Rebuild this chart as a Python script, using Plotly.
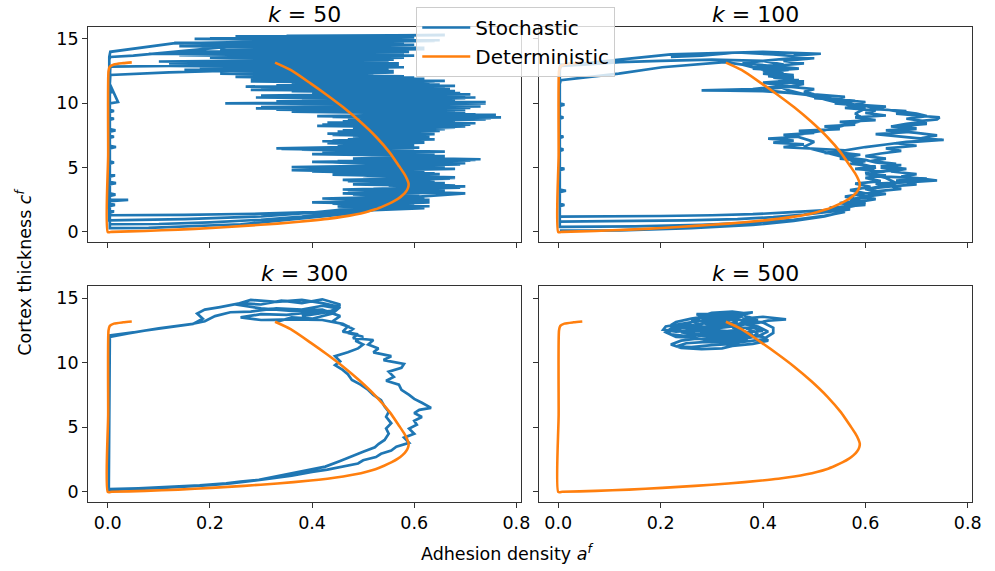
import plotly.graph_objects as go

BLUE = "#1f77b4"
ORANGE = "#ff7f0e"

# ---------------- data ----------------
ks = ["50", "100", "300", "500"]
x_ticks = [0.0, 0.2, 0.4, 0.6, 0.8]
y_ticks = [0, 5, 10, 15]

# deterministic limit-cycle (a^f, c^f)
det_pts = [
    (0.3275, 13.16), (0.358, 12.59), (0.397, 11.55), (0.429, 10.65), (0.461, 9.69),
    (0.494, 8.58), (0.526, 7.36), (0.552, 6.17), (0.571, 5.08), (0.580, 4.55),
    (0.586, 4.1), (0.589, 3.75), (0.588, 3.45), (0.584, 3.15), (0.577, 2.85),
    (0.568, 2.57), (0.556, 2.3), (0.541, 2.03), (0.524, 1.76), (0.505, 1.54),
    (0.485, 1.36), (0.461, 1.19), (0.430, 1.02), (0.397, 0.88), (0.332, 0.65),
    (0.267, 0.47), (0.203, 0.31), (0.138, 0.18), (0.073, 0.08), (0.008, 0.01),
    (0.0, 0.0), (0.0008, 6.0), (0.0015, 12.5), (0.004, 12.85), (0.012, 13.02),
    (0.03, 13.12), (0.047, 13.18),
]

# stochastic run, k = 50
k50_pts = [
    (0.45, 12.9), (0.30, 12.6), (0.12, 12.4), (0.005, 12.2),
    (0.004, 11.5), (0.02, 10.1), (0.004, 10.0), (0.004, 8.0), (0.015, 7.9), (0.004, 7.8),
    (0.004, 6.7), (0.016, 6.6), (0.004, 6.5), (0.004, 4.5), (0.014, 4.4), (0.004, 4.3),
    (0.004, 2.5), (0.04, 2.5), (0.004, 2.4), (0.004, 0.3),
    (0.08, 0.32), (0.18, 0.45), (0.26, 0.6), (0.33, 0.85), (0.40, 1.1), (0.47, 1.4), (0.52, 1.7),
    (0.62, 1.85), (0.45, 1.95), (0.60, 2.15), (0.40, 2.3), (0.63, 2.5), (0.50, 2.65), (0.61, 2.85),
    (0.46, 3.0), (0.66, 3.2), (0.52, 3.35), (0.70, 3.55), (0.48, 3.7), (0.64, 3.9), (0.55, 4.05),
    (0.68, 4.25), (0.44, 4.45), (0.62, 4.6), (0.36, 4.8), (0.66, 5.0), (0.50, 5.15), (0.70, 5.35),
    (0.45, 5.5), (0.73, 5.65), (0.52, 5.8), (0.64, 6.0), (0.42, 6.15), (0.60, 6.3), (0.34, 6.45),
    (0.58, 6.6), (0.46, 6.8), (0.62, 6.95), (0.44, 7.1), (0.60, 7.3), (0.48, 7.45), (0.64, 7.6),
    (0.45, 7.8), (0.66, 8.0), (0.50, 8.15), (0.71, 8.35), (0.43, 8.5), (0.68, 8.65), (0.52, 8.8),
    (0.77, 8.9), (0.48, 9.05), (0.70, 9.25), (0.40, 9.4), (0.66, 9.55), (0.30, 9.7), (0.60, 9.85),
    (0.40, 9.95), (0.74, 10.1), (0.45, 10.25), (0.70, 10.4), (0.34, 10.55), (0.71, 10.7), (0.40, 10.85),
    (0.66, 11.0), (0.30, 11.2), (0.68, 11.35), (0.42, 11.5), (0.64, 11.7), (0.28, 11.85), (0.60, 12.0),
    (0.38, 12.2), (0.56, 12.4), (0.20, 12.55), (0.55, 12.7), (0.30, 12.85), (0.12, 12.9), (0.005, 12.85),
    (0.004, 12.0), (0.004, 9.5), (0.012, 9.4), (0.004, 9.3), (0.004, 5.5), (0.012, 5.4), (0.004, 5.3),
    (0.004, 3.0), (0.015, 2.9), (0.004, 2.8), (0.004, 1.7), (0.012, 1.6), (0.004, 1.5), (0.004, 0.6),
    (0.10, 0.62), (0.20, 0.75), (0.30, 0.95), (0.38, 1.2), (0.45, 1.5), (0.52, 1.9),
    (0.63, 2.0), (0.44, 2.2), (0.62, 2.35), (0.42, 2.6), (0.58, 2.75), (0.48, 2.9), (0.64, 3.05),
    (0.47, 3.25), (0.69, 3.45), (0.55, 3.6), (0.66, 3.8), (0.47, 3.95), (0.67, 4.15), (0.50, 4.35),
    (0.65, 4.5), (0.40, 4.7), (0.68, 4.9), (0.36, 5.05), (0.62, 5.2), (0.44, 5.4), (0.71, 5.55),
    (0.48, 5.7), (0.66, 5.9), (0.40, 6.05), (0.63, 6.2), (0.47, 6.4), (0.56, 6.55), (0.33, 6.5),
    (0.60, 6.7), (0.43, 6.9), (0.62, 7.05), (0.47, 7.2), (0.63, 7.4), (0.44, 7.55), (0.61, 7.7),
    (0.46, 7.9), (0.68, 8.1), (0.41, 8.25), (0.72, 8.45), (0.46, 8.6), (0.74, 8.75), (0.44, 8.95),
    (0.76, 9.1), (0.50, 9.2), (0.68, 9.35), (0.33, 9.5), (0.71, 9.65), (0.42, 9.8), (0.70, 9.9),
    (0.23, 10.0), (0.64, 10.15), (0.38, 10.3), (0.72, 10.45), (0.30, 10.6), (0.69, 10.8), (0.36, 10.95),
    (0.67, 11.1), (0.27, 11.3), (0.65, 11.45), (0.36, 11.6), (0.66, 11.75), (0.30, 11.9), (0.58, 12.1),
    (0.22, 12.3), (0.56, 12.5), (0.15, 12.6), (0.58, 12.8), (0.28, 12.95), (0.57, 13.1), (0.10, 13.25),
    (0.56, 13.4), (0.20, 13.55), (0.60, 13.7), (0.08, 13.85), (0.59, 14.0), (0.22, 14.15), (0.62, 14.3),
    (0.14, 14.45), (0.58, 14.6), (0.30, 14.7), (0.64, 14.85), (0.17, 15.0), (0.60, 15.1), (0.25, 15.2),
    (0.66, 15.3), (0.35, 15.25), (0.58, 15.0), (0.28, 14.8), (0.128, 14.66), (0.005, 14.0),
    (0.003, 13.6), (0.003, 11.0), (0.01, 10.9), (0.003, 10.8), (0.003, 8.9), (0.012, 8.8),
    (0.003, 8.7), (0.003, 3.9), (0.016, 3.8), (0.003, 3.7), (0.003, 2.2), (0.014, 2.1),
    (0.003, 2.0), (0.003, 0.9),
    (0.15, 1.0), (0.30, 1.2), (0.40, 1.5), (0.50, 1.9), (0.58, 2.2),
    (0.45, 2.35), (0.62, 2.7), (0.50, 2.9), (0.60, 3.1), (0.46, 3.3), (0.68, 3.5), (0.50, 3.7),
    (0.62, 3.85), (0.46, 4.05), (0.68, 4.2), (0.52, 4.4), (0.64, 4.55), (0.40, 4.75), (0.60, 4.95),
    (0.48, 5.1), (0.69, 5.25), (0.40, 5.45), (0.72, 5.6), (0.55, 5.75), (0.62, 5.95), (0.45, 6.1),
    (0.66, 6.25), (0.38, 6.4), (0.61, 6.55), (0.45, 6.75), (0.60, 6.9), (0.42, 7.05), (0.64, 7.2),
    (0.50, 7.35), (0.62, 7.5), (0.43, 7.65), (0.65, 7.85), (0.48, 8.0), (0.70, 8.2), (0.42, 8.35),
    (0.66, 8.55), (0.47, 8.7), (0.75, 8.85), (0.41, 9.0), (0.72, 9.15), (0.36, 9.35), (0.70, 9.5),
    (0.29, 9.6), (0.73, 9.75), (0.48, 9.85), (0.74, 10.0), (0.33, 10.15), (0.68, 10.3), (0.29, 10.45),
    (0.70, 10.65), (0.44, 10.8), (0.68, 10.95), (0.28, 11.05), (0.66, 11.25), (0.33, 11.4), (0.63, 11.55),
    (0.28, 11.7), (0.62, 11.9), (0.25, 12.05), (0.52, 12.2), (0.32, 12.35), (0.55, 12.45), (0.18, 12.65),
    (0.57, 12.9), (0.12, 13.1), (0.55, 13.25), (0.25, 13.35), (0.58, 13.55), (0.14, 13.75), (0.58, 13.85),
    (0.14, 14.0), (0.62, 14.2), (0.20, 14.4), (0.60, 14.55), (0.13, 14.7), (0.65, 14.9), (0.20, 15.05),
    (0.60, 15.15), (0.40, 15.0), (0.05, 13.7), (0.005, 13.6),
    (0.003, 13.4), (0.003, 7.5), (0.012, 7.4), (0.003, 7.3), (0.003, 1.3),
    (0.15, 1.33), (0.30, 1.42), (0.45, 1.6), (0.565, 1.85), (0.45, 2.05), (0.63, 2.3), (0.52, 2.5),
    (0.70, 3.0), (0.55, 3.2), (0.68, 3.6), (0.50, 3.85), (0.64, 4.1), (0.50, 4.4), (0.62, 4.7),
    (0.50, 5.0), (0.68, 5.3), (0.52, 5.7),
]

# stochastic run, k = 100
k100_pts = [
    (0.003, 0.1), (0.12, 0.12), (0.26, 0.3), (0.38, 0.55), (0.46, 0.85), (0.52, 1.2), (0.56, 1.6),
    (0.54, 1.9), (0.60, 2.2), (0.58, 2.6), (0.63, 3.0), (0.61, 3.4), (0.66, 3.8), (0.64, 4.2),
    (0.60, 4.6), (0.62, 5.0), (0.58, 5.4), (0.56, 5.8), (0.52, 6.2), (0.48, 6.6), (0.50, 7.0),
    (0.46, 7.5), (0.52, 7.9), (0.56, 8.3), (0.60, 8.7), (0.58, 9.2), (0.60, 9.6), (0.55, 10.0),
    (0.50, 10.5), (0.45, 11.0), (0.42, 11.5), (0.46, 12.0), (0.40, 12.6), (0.36, 13.0), (0.325, 13.2),
    (0.203, 12.8), (0.118, 12.3), (0.005, 11.8),
    (0.003, 11.5), (0.003, 9.0), (0.01, 8.9), (0.003, 8.8), (0.003, 5.0), (0.012, 4.9), (0.003, 4.8),
    (0.003, 3.3), (0.015, 3.2), (0.003, 3.1), (0.003, 1.2),
    (0.10, 1.21), (0.20, 1.24), (0.30, 1.3), (0.38, 1.38), (0.44, 1.5), (0.50, 1.62), (0.55, 1.75),
    (0.53, 1.9), (0.58, 2.0), (0.56, 2.15), (0.60, 2.3), (0.57, 2.5), (0.61, 2.7), (0.58, 2.9),
    (0.62, 3.1), (0.60, 3.35), (0.65, 3.55), (0.62, 3.75), (0.70, 3.9), (0.66, 4.0), (0.72, 4.15),
    (0.64, 4.3), (0.60, 4.5), (0.64, 4.7), (0.58, 4.9), (0.62, 5.1), (0.57, 5.3), (0.60, 5.5),
    (0.55, 5.7), (0.58, 5.95), (0.52, 6.15), (0.56, 6.35), (0.48, 6.5), (0.44, 6.6), (0.48, 6.8),
    (0.42, 6.95), (0.46, 7.1), (0.41, 7.25), (0.47, 7.4), (0.44, 7.55), (0.50, 7.7), (0.47, 7.85),
    (0.55, 8.0), (0.52, 8.2), (0.58, 8.35), (0.55, 8.55), (0.62, 8.7), (0.58, 8.9), (0.64, 9.05),
    (0.60, 9.25), (0.62, 9.45), (0.56, 9.65), (0.60, 9.8), (0.54, 10.0), (0.57, 10.2), (0.50, 10.4),
    (0.53, 10.6), (0.46, 10.8), (0.40, 10.95), (0.30, 11.0), (0.40, 11.1), (0.46, 11.3), (0.42, 11.5),
    (0.48, 11.7), (0.44, 11.9), (0.46, 12.1), (0.40, 12.3), (0.44, 12.5), (0.38, 12.7), (0.42, 12.9),
    (0.36, 13.1), (0.40, 13.3), (0.30, 13.4), (0.20, 13.3), (0.12, 13.2), (0.05, 13.0), (0.005, 12.9),
    (0.003, 12.6), (0.003, 10.0), (0.012, 9.9), (0.003, 9.8), (0.003, 6.5), (0.01, 6.4), (0.003, 6.3),
    (0.003, 2.2), (0.012, 2.1), (0.003, 2.0), (0.003, 0.8),
    (0.12, 0.82), (0.25, 0.9), (0.35, 1.0), (0.42, 1.15), (0.48, 1.35), (0.53, 1.55), (0.57, 1.75),
    (0.55, 1.95), (0.60, 2.1), (0.58, 2.3), (0.62, 2.55), (0.60, 2.75), (0.64, 2.95), (0.62, 3.15),
    (0.67, 3.35), (0.65, 3.55), (0.70, 3.7), (0.68, 3.85), (0.74, 4.0), (0.71, 4.15), (0.67, 4.3),
    (0.70, 4.5), (0.65, 4.7), (0.68, 4.9), (0.63, 5.1), (0.66, 5.3), (0.61, 5.5), (0.64, 5.7),
    (0.60, 5.9), (0.63, 6.1), (0.67, 6.3), (0.64, 6.5), (0.70, 6.7), (0.66, 6.9), (0.72, 7.05),
    (0.75, 7.15), (0.70, 7.3), (0.66, 7.45), (0.62, 7.6), (0.68, 7.75), (0.64, 7.9), (0.70, 8.05),
    (0.66, 8.2), (0.72, 8.4), (0.70, 8.6), (0.74, 8.75), (0.745, 8.9), (0.70, 9.05), (0.66, 9.2),
    (0.68, 9.4), (0.62, 9.55), (0.64, 9.75), (0.58, 9.9), (0.60, 10.1), (0.54, 10.3), (0.56, 10.5),
    (0.50, 10.7), (0.48, 10.9), (0.50, 11.1), (0.45, 11.3), (0.48, 11.5), (0.43, 11.7), (0.46, 11.9),
    (0.41, 12.1), (0.44, 12.3), (0.40, 12.5), (0.47, 12.7), (0.42, 12.9), (0.48, 13.1), (0.44, 13.3),
    (0.50, 13.5), (0.46, 13.7), (0.513, 13.85), (0.40, 14.0), (0.30, 13.9), (0.22, 13.8), (0.12, 13.4),
    (0.05, 13.1), (0.005, 13.0),
    (0.003, 12.8), (0.003, 7.5), (0.01, 7.4), (0.003, 7.3), (0.003, 0.4),
    (0.15, 0.43), (0.28, 0.55), (0.38, 0.72), (0.46, 0.95), (0.52, 1.25), (0.56, 1.55), (0.54, 1.8),
    (0.58, 2.0), (0.55, 2.25), (0.59, 2.5), (0.56, 2.75), (0.60, 3.0), (0.57, 3.25), (0.61, 3.5),
    (0.58, 3.75), (0.63, 3.95), (0.60, 4.2), (0.64, 4.4), (0.61, 4.6), (0.66, 4.8), (0.63, 5.0),
    (0.67, 5.2), (0.62, 5.4), (0.60, 5.6), (0.56, 5.8), (0.59, 6.0), (0.54, 6.2), (0.57, 6.4),
    (0.60, 6.6), (0.64, 6.8), (0.68, 7.0), (0.72, 7.1), (0.753, 7.15), (0.71, 7.3), (0.74, 7.5),
    (0.70, 7.7), (0.66, 7.85), (0.70, 8.0), (0.65, 8.2), (0.68, 8.4), (0.72, 8.6), (0.68, 8.8),
    (0.72, 9.0), (0.70, 9.2), (0.66, 9.4), (0.62, 9.6), (0.60, 9.8), (0.56, 10.0), (0.58, 10.2),
    (0.52, 10.4), (0.50, 10.6), (0.46, 10.8), (0.42, 10.95), (0.28, 11.0), (0.38, 11.1), (0.44, 11.35),
    (0.40, 11.6), (0.47, 11.8), (0.42, 12.0), (0.46, 12.2), (0.40, 12.4), (0.45, 12.6), (0.38, 12.8),
    (0.44, 13.0), (0.40, 13.3), (0.48, 13.6), (0.42, 13.8), (0.35, 13.95), (0.28, 13.7), (0.22, 13.6),
]

# stochastic run, k = 300
k300_pts = [
    (0.33, 13.15), (0.36, 13.5), (0.40, 13.4), (0.44, 13.8), (0.455, 14.3), (0.42, 14.6), (0.38, 14.85),
    (0.33, 14.7), (0.28, 14.85), (0.25, 14.5), (0.30, 14.2), (0.36, 14.0), (0.42, 14.1), (0.455, 13.6),
    (0.44, 13.2),
    (0.47, 12.8), (0.46, 12.4), (0.49, 12.2), (0.48, 11.9), (0.52, 11.75), (0.51, 11.4), (0.53, 11.1),
    (0.52, 10.8), (0.555, 10.5), (0.54, 10.2), (0.58, 9.9), (0.575, 9.6), (0.55, 9.3), (0.56, 8.9),
    (0.545, 8.6), (0.57, 8.3), (0.575, 7.9), (0.59, 7.5), (0.60, 7.2), (0.615, 6.9), (0.633, 6.5),
    (0.61, 6.35), (0.60, 6.1), (0.615, 5.8), (0.60, 5.5), (0.605, 5.2), (0.59, 4.9), (0.60, 4.5),
    (0.58, 4.2), (0.59, 3.8), (0.565, 3.5), (0.555, 3.2), (0.535, 2.95), (0.525, 2.7), (0.50, 2.45),
    (0.49, 2.2), (0.46, 1.95), (0.43, 1.72), (0.40, 1.55), (0.36, 1.25), (0.32, 1.05), (0.28, 0.85),
    (0.24, 0.65), (0.20, 0.52), (0.16, 0.42), (0.10, 0.3), (0.04, 0.22), (0.002, 0.15),
    (0.002, 6.0), (0.004, 12.0),
    (0.04, 12.27), (0.10, 12.66), (0.167, 13.0), (0.186, 13.4), (0.175, 13.8), (0.19, 14.1),
    (0.22, 14.3), (0.26, 14.6), (0.30, 14.5), (0.34, 14.8), (0.38, 14.6), (0.42, 14.9), (0.455, 14.5),
    (0.44, 14.0), (0.40, 13.9), (0.35, 13.7), (0.30, 13.75), (0.26, 13.5), (0.30, 13.3), (0.36, 13.35),
    (0.42, 13.3), (0.46, 13.0), (0.48, 12.6),
    (0.47, 12.3), (0.50, 12.0), (0.485, 11.7), (0.50, 11.4), (0.49, 11.1), (0.47, 10.8), (0.445, 10.5),
    (0.455, 10.1), (0.445, 9.8), (0.46, 9.44), (0.47, 9.1), (0.478, 8.66), (0.495, 8.3), (0.51, 7.89),
    (0.52, 7.5), (0.535, 7.1), (0.542, 6.6), (0.55, 6.2), (0.545, 5.8), (0.555, 5.31), (0.545, 4.9),
    (0.55, 4.5), (0.542, 4.02), (0.53, 3.7), (0.523, 3.45), (0.50, 3.1), (0.478, 2.73), (0.455, 2.4),
    (0.426, 1.96), (0.40, 1.75), (0.361, 1.44), (0.33, 1.2), (0.296, 0.93), (0.26, 0.8), (0.232, 0.67),
    (0.18, 0.5), (0.12, 0.38), (0.06, 0.28), (0.002, 0.22),
    (0.003, 6.0), (0.004, 12.1),
    (0.05, 12.35), (0.10, 12.62), (0.16, 12.95), (0.19, 13.2), (0.21, 13.6), (0.24, 13.9), (0.28, 13.95),
    (0.33, 14.2), (0.38, 14.1), (0.42, 14.4), (0.45, 14.2), (0.43, 13.9), (0.38, 13.6),
]

# stochastic run, k = 500
k500_pts = [
    (0.33, 13.15), (0.31, 13.4), (0.28, 13.6), (0.30, 13.85), (0.34, 13.95), (0.37, 13.8), (0.35, 13.55),
    (0.31, 13.3), (0.27, 13.2), (0.24, 13.0), (0.21, 12.8), (0.205, 12.55), (0.23, 12.4), (0.27, 12.5),
    (0.31, 12.7), (0.35, 12.85), (0.38, 13.1), (0.36, 13.4), (0.40, 13.55), (0.43, 13.45), (0.445, 13.35),
    (0.41, 13.25), (0.38, 13.0), (0.37, 12.6), (0.39, 12.3), (0.38, 12.0), (0.35, 11.85), (0.31, 11.8),
    (0.27, 11.85), (0.24, 11.7), (0.22, 11.4), (0.24, 11.15), (0.28, 11.05), (0.32, 11.1), (0.34, 11.3),
    (0.38, 11.45), (0.41, 11.7), (0.40, 12.0), (0.36, 12.2), (0.32, 12.1), (0.28, 12.2), (0.25, 12.05),
    (0.22, 12.2), (0.21, 12.45), (0.24, 12.7), (0.28, 12.9), (0.26, 13.2), (0.28, 13.45), (0.32, 13.6),
    (0.36, 13.7), (0.38, 13.9), (0.34, 13.8), (0.30, 13.65), (0.26, 13.4), (0.23, 13.15), (0.22, 12.9),
    (0.25, 12.65), (0.29, 12.55), (0.33, 12.45), (0.36, 12.55), (0.34, 12.8), (0.31, 13.0), (0.28, 13.1),
    (0.30, 12.85), (0.27, 12.65), (0.24, 12.35), (0.27, 12.1), (0.31, 11.95), (0.35, 12.05), (0.38, 12.2),
    (0.36, 12.45), (0.32, 12.35), (0.28, 12.4), (0.26, 12.8), (0.29, 13.1), (0.33, 13.3), (0.37, 13.3),
    (0.40, 13.1), (0.42, 12.7), (0.42, 12.3), (0.40, 11.8), (0.36, 11.6), (0.33, 11.55), (0.29, 11.6),
    (0.25, 11.5), (0.23, 11.25), (0.26, 11.2), (0.30, 11.35), (0.34, 11.45), (0.37, 11.7), (0.34, 11.95),
    (0.30, 12.0), (0.26, 12.3), (0.23, 12.55), (0.22, 12.75), (0.25, 12.95), (0.29, 12.75), (0.32, 12.9),
    (0.35, 13.1), (0.33, 13.45), (0.29, 13.5), (0.27, 13.75), (0.31, 13.75), (0.35, 13.85), (0.37, 13.55),
    (0.39, 13.35), (0.36, 13.15), (0.34, 12.7), (0.38, 12.7), (0.40, 12.45), (0.37, 12.35), (0.33, 12.25),
    (0.29, 12.3), (0.26, 12.55), (0.28, 12.75), (0.25, 13.0), (0.22, 12.65), (0.21, 12.35), (0.23, 12.0),
    (0.26, 11.95), (0.29, 11.75), (0.32, 11.7), (0.35, 11.75), (0.39, 12.05), (0.41, 12.4), (0.39, 12.8),
    (0.36, 13.0), (0.32, 13.1), (0.28, 13.3), (0.30, 13.5), (0.33, 13.7), (0.36, 13.6), (0.33, 13.2),
]

stoch_by_k = [k50_pts, k100_pts, k300_pts, k500_pts]

# ---------------- figure ----------------
W, H = 995, 571
FONT = "DejaVu Sans"


def px_x(p):
    return p / W


def px_y(p):
    return 1 - p / H


col_px = [(89, 526), (544, 982)]
row_px = [(27, 242), (286, 502)]

fig = go.Figure()
det_a = [p[0] for p in det_pts]
det_c = [p[1] for p in det_pts]

layout_axes = {}
annotations = []
for i, pts in enumerate(stoch_by_k):
    r, c = divmod(i, 2)
    suffix = "" if i == 0 else str(i + 1)
    a = [p[0] for p in pts]
    cc = [p[1] for p in pts]
    fig.add_trace(go.Scatter(
        x=a, y=cc, mode="lines", name="Stochastic",
        line=dict(color=BLUE, width=2.7), showlegend=(i == 0), legendgroup="s",
        xaxis="x" + suffix, yaxis="y" + suffix, hoverinfo="skip"))
    fig.add_trace(go.Scatter(
        x=det_a, y=det_c, mode="lines", name="Deterministic",
        line=dict(color=ORANGE, width=2.6, shape="spline", smoothing=0.6),
        showlegend=(i == 0), legendgroup="d",
        xaxis="x" + suffix, yaxis="y" + suffix, hoverinfo="skip"))

    x0, x1 = col_px[c]
    y0, y1 = row_px[r]
    common = dict(showline=True, mirror=True, linecolor="#333333", linewidth=1,
                  ticks="outside", ticklen=5, tickwidth=1, tickcolor="#333333",
                  showgrid=False, zeroline=False,
                  tickfont=dict(family=FONT, size=17.5, color="black"))
    layout_axes["xaxis" + suffix] = dict(
        domain=[px_x(x0), px_x(x1)], range=[-0.0385, 0.8085],
        tickvals=x_ticks, ticktext=["%.1f" % v for v in x_ticks],
        showticklabels=(r == 1), anchor="y" + suffix, **common)
    layout_axes["yaxis" + suffix] = dict(
        domain=[px_y(y1), px_y(y0)], range=[-0.78, 15.93],
        tickvals=y_ticks, ticktext=[str(v) for v in y_ticks],
        showticklabels=(c == 0), anchor="x" + suffix, **common)
    annotations.append(dict(
        text="<i>k</i> = " + ks[i], x=px_x((x0 + x1) / 2), y=px_y(y0 - 12.5),
        xref="paper", yref="paper", xanchor="center", yanchor="middle",
        showarrow=False, font=dict(family=FONT, size=22, color="black")))

annotations.append(dict(
    text="Cortex thickness <i>c</i><sup><i>f</i></sup>", x=px_x(24), y=px_y(272),
    xref="paper", yref="paper", xanchor="center", yanchor="middle", textangle=-90,
    showarrow=False, font=dict(family=FONT, size=17.5, color="black")))
annotations.append(dict(
    text="Adhesion density <i>a</i><sup><i>f</i></sup>", x=px_x(512), y=px_y(553),
    xref="paper", yref="paper", xanchor="center", yanchor="middle",
    showarrow=False, font=dict(family=FONT, size=17.5, color="black")))

fig.update_layout(
    width=W, height=H, margin=dict(l=0, r=0, t=0, b=0),
    paper_bgcolor="white", plot_bgcolor="white",
    font=dict(family=FONT, size=17, color="black"),
    showlegend=True,
    legend=dict(x=px_x(521), xanchor="center", y=px_y(7), yanchor="top",
                bgcolor="rgba(255,255,255,0.8)", bordercolor="#cccccc", borderwidth=1,
                font=dict(family=FONT, size=20, color="black"), itemwidth=48,
                tracegroupgap=0),
    annotations=annotations,
    **layout_axes,
)

fig.write_html("out.html")
